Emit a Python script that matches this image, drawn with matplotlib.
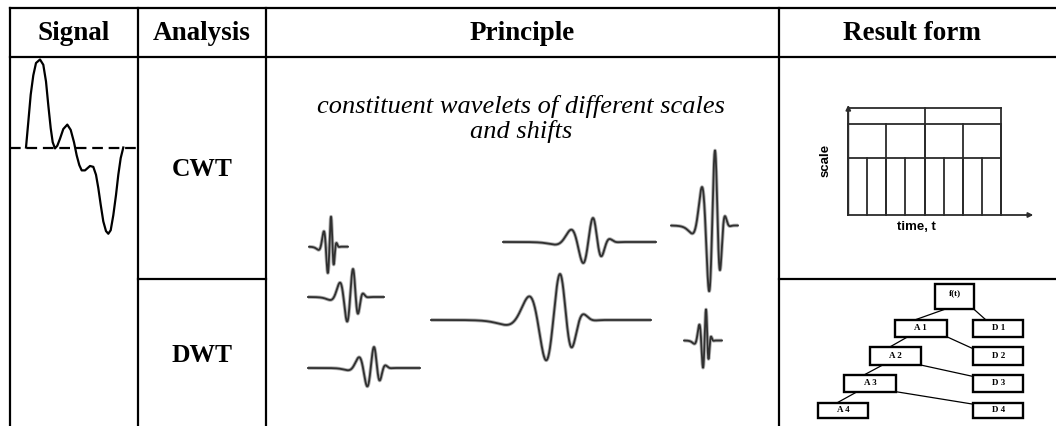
import numpy as np
import matplotlib
matplotlib.use("Agg")
import matplotlib.pyplot as plt
from matplotlib.patches import Rectangle

# ---------------- data ----------------
headers = ["Signal", "Analysis", "Principle", "Result form"]
analyses = ["CWT", "DWT"]
principle_text = "constituent wavelets of different scales\nand shifts"

# example signal (time, amplitude)
signal_t = [0, 2.3, 4.7, 7.3, 10, 14, 17.3, 20, 22.3, 24.7, 26.7, 29, 31.3, 34,
            37.3, 41.3, 44.7, 48, 50.7, 53.3, 55.7, 59, 64, 67.3, 70, 72.3, 74.7,
            77.3, 80, 82.3, 84.7, 87.3, 90, 92.3, 94.7, 97.3]
signal_amp = [0.0, 0.29, 0.60, 0.82, 0.96, 1.0, 0.94, 0.75, 0.48, 0.22, 0.06, -0.01,
              0.02, 0.10, 0.21, 0.26, 0.20, 0.06, -0.09, -0.20, -0.26, -0.26, -0.21,
              -0.22, -0.31, -0.46, -0.65, -0.84, -0.95, -0.98, -0.94, -0.77, -0.54,
              -0.31, -0.12, 0.0]

# constituent wavelets: shift, row offset, scale, amplitude, support (left, right)
wav_shift = [65, 87, 108, 327, 294, 449, 440]
wav_row = [189.7, 240, 311, 185, 263, 168.5, 283.5]
wav_scale = [3.0, 5.5, 6.3, 9.2, 13.0, 5.5, 2.8]
wav_amp = [30, 28, 21, 24, 46, 75, 31]
wav_left = [43, 42, 42, 237, 165, 405, 418]
wav_right = [82, 118, 154, 390, 385, 472, 456]

# CWT time-scale tiling
scalo_T = 8
scale_edges = [0, 3.0, 4.8, 5.6]

# DWT decomposition tree
tree_labels = ["f(t)", "A 1", "D 1", "A 2", "D 2", "A 3", "D 3", "A 4", "D 4"]
tree_edges = [(0, 1, "A"), (0, 2, "D"), (1, 3, "A"), (1, 4, "D"),
              (3, 5, "A"), (3, 6, "D"), (5, 7, "A"), (5, 8, "D")]

# ---------------- figure ----------------
W, H = 1056, 426
fig = plt.figure(figsize=(W / 100, H / 100), dpi=100)
SERIF = "Liberation Serif"
SANS = "Liberation Sans"


def px_axes(x0, y0, x1, y1):
    a = fig.add_axes([x0 / W, 1 - y1 / H, (x1 - x0) / W, (y1 - y0) / H])
    a.axis("off")
    return a


ax = px_axes(0, 0, W, H)
ax.set_xlim(0, W)
ax.set_ylim(H, 0)

LW = 1.6
# table lines
ax.plot([10, W], [8, 8], color="black", lw=LW)
ax.plot([10, W], [57, 57], color="black", lw=LW)
for x in [10, 138, 266, 779]:
    ax.plot([x, x], [8, H], color="black", lw=LW)
ax.plot([138, 266], [279, 279], color="black", lw=LW)
ax.plot([779, W], [279, 279], color="black", lw=LW)

hx = [74, 202, 522, 912]
for h, x in zip(headers, hx):
    ax.text(x, 40, h, ha="center", va="baseline", fontsize=19.5,
            fontweight="bold", family=SERIF)
ax.text(202, 176.5, analyses[0], ha="center", va="baseline", fontsize=18.4,
        fontweight="bold", family=SERIF)
ax.text(202, 361.5, analyses[1], ha="center", va="baseline", fontsize=18.4,
        fontweight="bold", family=SERIF)
ax.text(521, 113, principle_text.split("\n")[0], ha="center", va="baseline",
        fontsize=19, style="italic", family=SERIF)
ax.text(521, 138, principle_text.split("\n")[1], ha="center", va="baseline",
        fontsize=19, style="italic", family=SERIF)

# ---------------- signal ----------------
axs = px_axes(10, 57, 138, 279)
axs.set_xlim(-16, 112)
axs.set_ylim(-(279 - 147.5) / 88, (147.5 - 57) / 88)
axs.plot([-16, 112], [0, 0], color="black", lw=1.6, dashes=[4.8, 2.6],
         clip_on=False)
axs.plot(signal_t, signal_amp, color="black", lw=1.6, clip_on=False,
         solid_joinstyle="round")

# ---------------- wavelets ----------------
axw = px_axes(266, 57, 779, 426)
axw.set_xlim(0, 513)
axw.set_ylim(369, 0)


def mother(u):
    u = np.asarray(u, dtype=float)
    sig = np.where(u < 0, 2.1, 0.93)
    env = np.exp(-u ** 2 / (2 * sig ** 2))
    phase = np.where(u < 0, np.pi * u * (1 + 0.08 * u), np.pi * u)
    return env * np.cos(phase)


for s, r, sc, am, l, rr in zip(wav_shift, wav_row, wav_scale, wav_amp,
                               wav_left, wav_right):
    x = np.linspace(l, rr, 800)
    y = r - am * mother((x - s) / sc)
    axw.plot(x, y, color="#b0b0b0", lw=2.6, clip_on=False,
             solid_capstyle="butt")
    axw.plot(x, y, color="#303030", lw=1.3, clip_on=False)

# ---------------- CWT tiling ----------------
u = 19.05
axc = px_axes(800, 90, 1050, 240)
axc.set_xlim((800 - 848.3) / u, (1050 - 848.3) / u)
axc.set_ylim((215 - 240) / u, (215 - 90) / u)
gc = "#2b2b2b"
for k in range(1, len(scale_edges)):
    step = 2 ** (k - 1)
    axc.plot([0, scalo_T], [scale_edges[k]] * 2, color=gc, lw=1.3)
    for t in range(0, scalo_T + 1, step):
        axc.plot([t, t], [0, scale_edges[k]], color=gc, lw=1.3)
axc.annotate("", xy=(9.71, 0), xytext=(0, 0),
             arrowprops=dict(arrowstyle="-|>", color=gc, lw=1.3,
                             mutation_scale=7, shrinkA=0, shrinkB=0))
axc.annotate("", xy=(0, 5.78), xytext=(0, 0),
             arrowprops=dict(arrowstyle="-|>", color=gc, lw=1.3,
                             mutation_scale=7, shrinkA=0, shrinkB=0))
axc.text(3.59, -0.3, "time, t", ha="center", va="top", fontsize=9.5,
         fontweight="bold", family=SANS)
axc.text(-1.17, 2.89, "scale", ha="center", va="center", rotation=90,
         fontsize=9.5, fontweight="bold", family=SANS)

# ---------------- DWT tree ----------------
axt = px_axes(779, 279, W, H)
axt.set_xlim(779, W)
axt.set_ylim(H, 279)
boxes = [(935, 283.5, 974, 309.3),
         (895, 320, 946.7, 336.7), (973.3, 320, 1023.3, 336.7),
         (870, 347.3, 920.7, 365), (973.3, 347.3, 1023.3, 365),
         (844.3, 375, 896, 391.7), (973.3, 375, 1023.3, 391.7),
         (818.3, 402.7, 868.3, 418.3), (973.3, 402.7, 1023.3, 418.3)]
for p, c, kind in tree_edges:
    px0, py0, px1, py1 = boxes[p]
    cx0, cy0, cx1, cy1 = boxes[c]
    if kind == "A":
        a = (px0 + 0.25 * (px1 - px0), py1)
        b = (cx0 + 0.38 * (cx1 - cx0), cy0)
    else:
        a = (px1, py1)
        b = (max(cx0, px1 + 12), cy0 + (0 if px1 + 12 > cx0 else 1.5))
    axt.plot([a[0], b[0]], [a[1], b[1]], color="black", lw=0.9)
for lab, (x0, y0, x1, y1) in zip(tree_labels, boxes):
    axt.add_patch(Rectangle((x0, y0), x1 - x0, y1 - y0, facecolor="white",
                            edgecolor="black", lw=1.7, zorder=3))
    axt.text((x0 + x1) / 2, (y0 + y1) / 2 - (3 if lab == "f(t)" else 0), lab,
             ha="center", va="center", fontsize=6.5, fontweight="bold",
             family=SERIF, zorder=4)

fig.savefig("out.png", dpi=100)
